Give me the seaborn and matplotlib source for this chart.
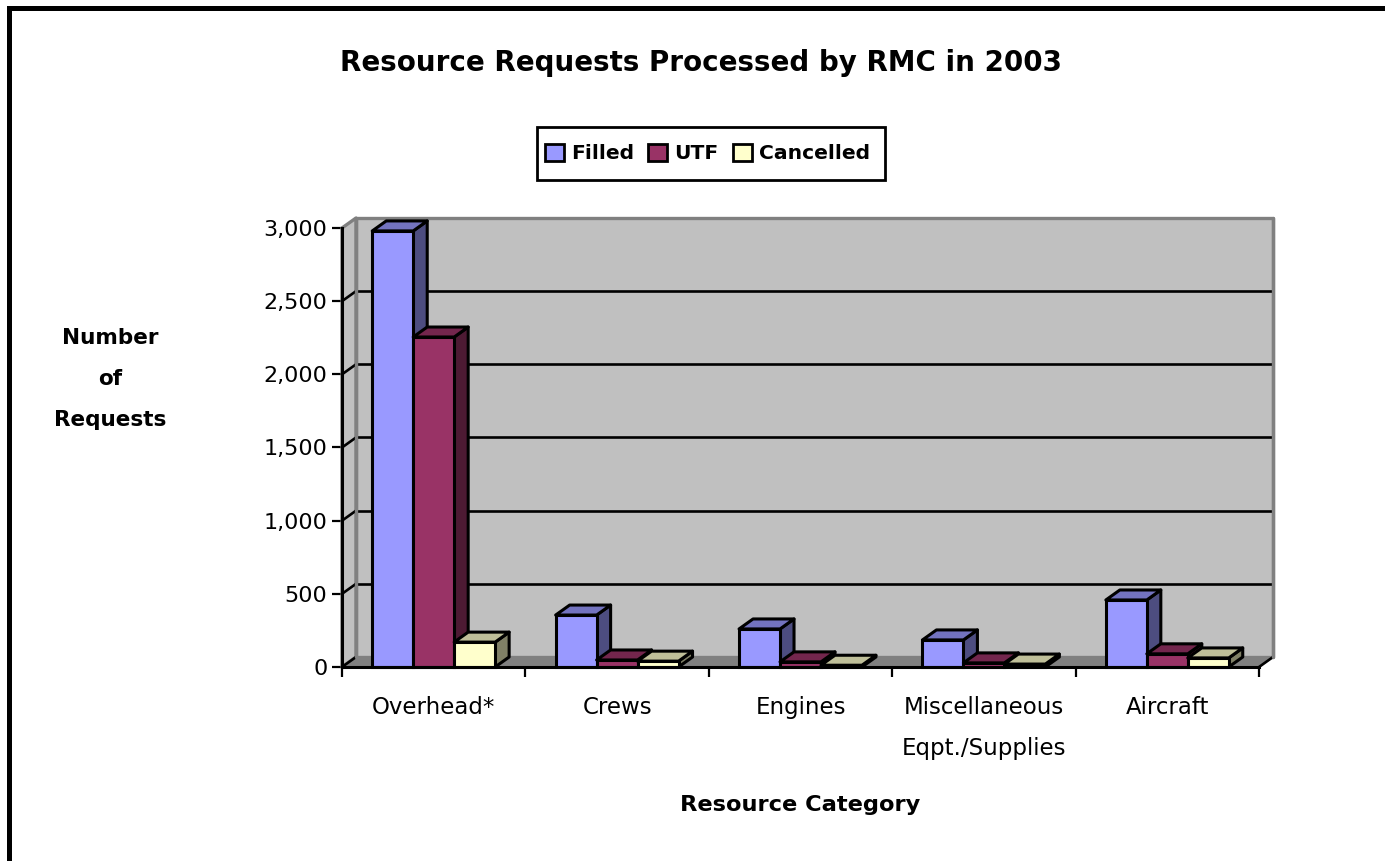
import numpy as np
import pandas as pd
import matplotlib
matplotlib.use("Agg")
import matplotlib.pyplot as plt
import matplotlib.colors as mcolors
from matplotlib.patches import Polygon, Rectangle
import seaborn as sns

# Values
categories = ["Overhead*", "Crews", "Engines", "Miscellaneous\nEqpt./Supplies", "Aircraft"]
filled = [2980, 355, 260, 185, 458]
utf = [2255, 48, 35, 28, 90]
cancelled = [170, 40, 12, 20, 62]
series_names = ["Filled", "UTF", "Cancelled"]
series_colors = ["#9999FF", "#993366", "#FFFFCC"]
y_ticks = [0, 500, 1000, 1500, 2000, 2500, 3000]

W, H = 1385, 861
LEFT, RIGHT, BOTTOM, TOP = 342, 1259, 667, 228
DEPTH_X, DEPTH_Y = 14, 10  # pixels of fake 3d depth

df = pd.DataFrame({"category": categories, "Filled": filled, "UTF": utf, "Cancelled": cancelled})
long_df = df.melt(id_vars="category", var_name="series", value_name="requests")

sns.set_theme(style="white")
plt.rcParams["font.family"] = ["DejaVu Sans"]
plt.rcParams["text.color"] = "black"

fig = plt.figure(figsize=(W / 100, H / 100), dpi=100)
ax = fig.add_axes([LEFT / W, 1 - BOTTOM / H, (RIGHT - LEFT) / W, (BOTTOM - TOP) / H])

sns.barplot(data=long_df, x="category", y="requests", hue="series", hue_order=series_names,
            palette=series_colors, width=0.67, gap=0, saturation=1, edgecolor="black",
            linewidth=2.2, ax=ax, zorder=5)
ax.set_xlim(-0.5, 4.5)
ax.set_ylim(0, 3000)
ax.patch.set_visible(False)

# depth expressed in data units
dx = DEPTH_X * 5 / (RIGHT - LEFT)
dy = DEPTH_Y * 3000 / (BOTTOM - TOP)
x0, x1 = ax.get_xlim()
y0, y1 = ax.get_ylim()


def face(points, color, edge="black", lw=2.2, z=1):
    ax.add_patch(Polygon(points, closed=True, facecolor=color, edgecolor=edge, linewidth=lw,
                         joinstyle="round", clip_on=False, zorder=z))


# walls and floor
face([(x0 + dx, y0 + dy), (x1 + dx, y0 + dy), (x1 + dx, y1 + dy), (x0 + dx, y1 + dy)], "#C0C0C0", "#808080", 2.4, 1)
face([(x0, y0), (x0 + dx, y0 + dy), (x0 + dx, y1 + dy), (x0, y1)], "#C0C0C0", "#808080", 2.4, 1)
face([(x0, y0), (x1, y0), (x1 + dx, y0 + dy), (x0 + dx, y0 + dy)], "#808080", "#808080", 1, 1.5)

# grid lines on the back wall, with the little diagonal across the side wall
for t in y_ticks:
    if y0 < t < y1:
        ax.plot([x0 + dx, x1 + dx], [t + dy, t + dy], color="black", lw=1.9, clip_on=False, zorder=2,
                solid_capstyle="butt")
    if t < y1:
        ax.plot([x0, x0 + dx], [t, t + dy], color="black", lw=1.9, clip_on=False, zorder=2)
ax.plot([x1, x1 + dx], [y0, y0 + dy], color="black", lw=1.9, clip_on=False, zorder=2)
# grey wall corners sit over the grid lines
for wall_x in [x0 + dx, x1 + dx]:
    ax.plot([wall_x, wall_x], [y0 + dy, y1 + dy], color="#808080", lw=2.4, clip_on=False, zorder=2.5)

# side and top faces of every bar, left to right so nearer bars overlap
bars = sorted([b for c in ax.containers for b in c], key=lambda b: b.get_x())
for i, b in enumerate(bars):
    bx, bw, bh = b.get_x(), b.get_width(), b.get_height()
    col = np.array(mcolors.to_rgb(b.get_facecolor()))
    z = 3 + i * 0.01
    face([(bx + bw, 0), (bx + bw + dx, dy), (bx + bw + dx, bh + dy), (bx + bw, bh)], col * 0.5, z=z)
    face([(bx, bh), (bx + bw, bh), (bx + bw + dx, bh + dy), (bx + dx, bh + dy)], col * 0.75, z=z)
    b.set_zorder(z + 0.005)
    b.set_clip_on(False)

ax.set_xticks(np.arange(-0.5, 5, 1), minor=False)
ax.set_xticklabels([])
ax.set_xticks(np.arange(5), labels=categories, minor=True)
ax.tick_params(axis="x", which="major", length=7.5, width=1.6, color="black", bottom=True)
ax.tick_params(axis="x", which="minor", length=0, pad=21, labelsize=16.5, labelcolor="black")
for lab in ax.get_xticklabels(minor=True):
    lab.set_linespacing(2.0)
    lab.set_verticalalignment("top")
ax.set_yticks(y_ticks, labels=[f"{t:,}" for t in y_ticks])
ax.tick_params(axis="y", length=7.5, width=1.6, color="black", left=True, pad=3, labelsize=16, labelcolor="black")
ax.set_xlabel("")
ax.set_ylabel("")

sns.despine(ax=ax, top=True, right=True)
for side in ["left", "bottom"]:
    ax.spines[side].set_color("black")
    ax.spines[side].set_linewidth(2.2)
    ax.spines[side].set_zorder(4)

# legend: box drawn separately so its side padding can stay tight
old = ax.get_legend()
if old is not None:
    old.remove()
fig.add_artist(Rectangle((537 / W, 1 - 180 / H), 348 / W, 53 / H, transform=fig.transFigure, facecolor="white",
                         edgecolor="black", linewidth=2, zorder=6))
handles = [Rectangle((0, 0), 1, 1, facecolor=c, edgecolor="black", linewidth=2) for c in series_colors]
leg = fig.legend(handles, series_names, loc="center", bbox_to_anchor=(707.5 / W, 1 - 153.5 / H), ncol=3,
                 frameon=False, handlelength=0.95, handleheight=0.95, handletextpad=0.35,
                 columnspacing=0.7, borderpad=0, prop={"weight": "bold", "size": 14.6})
leg.set_zorder(7)

# titles
fig.text(701 / W, 1 - 63 / H, "Resource Requests Processed by RMC in 2003", ha="center", va="center",
         fontsize=20, fontweight="bold", color="black")
fig.text(800 / W, 1 - 805 / H, "Resource Category", ha="center", va="center", fontsize=16.2,
         fontweight="bold", color="black")
fig.text(110 / W, 1 - 379 / H, "Number\nof\nRequests", ha="center", va="center", fontsize=15.5,
         fontweight="bold", color="black", linespacing=2.3, multialignment="center")

# outer border, cut by the right and bottom of the image
fig.add_artist(Rectangle((8.5 / W, -0.05), 1.2, 1.05 - 8.5 / H, transform=fig.transFigure, fill=False,
                         edgecolor="black", linewidth=3.6))

fig.savefig("out.png", dpi=100, facecolor="white")
